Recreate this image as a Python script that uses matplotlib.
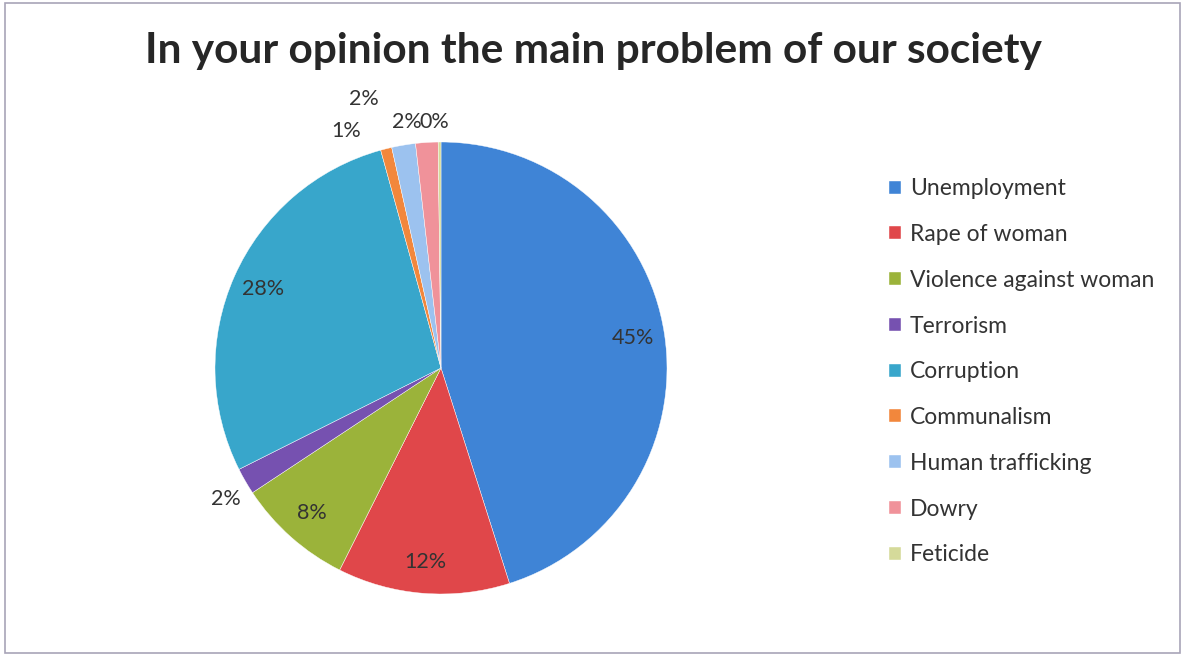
import matplotlib.pyplot as plt
import numpy as np
from matplotlib.patches import Rectangle

categories = ['Unemployment', 'Rape of woman', 'Violence against woman', 'Terrorism',
              'Corruption', 'Communalism', 'Human trafficking', 'Dowry', 'Feticide']
shares = [45.1, 12.3, 8.3, 1.9, 28.1, 0.8, 1.7, 1.6, 0.2]
colors = ['#3f84d6', '#e0474a', '#9bb33a', '#7651b0', '#38a6cb',
          '#f2873c', '#9cc2ef', '#f0929a', '#d5da9a']

# outside labels for the thin slices, offsets in pie radius units
outside = {3: (-0.95, -0.58), 5: (-0.42, 1.05), 6: (-0.34, 1.19),
           7: (-0.15, 1.09), 8: (-0.03, 1.09)}

plt.rcParams['font.family'] = ['Lato', 'DejaVu Sans']

fig = plt.figure(figsize=(11.85, 6.57), dpi=100)
fig.patches.append(Rectangle((0.004, 0.006), 0.992, 0.989, transform=fig.transFigure,
                             fill=False, edgecolor='#a8a4b8', linewidth=1.2))

fig.text(0.501, 0.922, 'In your opinion the main problem of our society',
         ha='center', va='center', fontsize=30.5, fontweight='bold', color='#262626')

ax = fig.add_axes([(441 - 226) / 1185, (289 - 226) / 657, 452 / 1185, 452 / 657])
wedges, _ = ax.pie(shares, colors=colors, startangle=90, counterclock=False,
                   wedgeprops=dict(linewidth=0.3, edgecolor='white'))
ax.set_xlim(-1, 1)
ax.set_ylim(-1, 1)

total = sum(shares)
for i, w in enumerate(wedges):
    label = '%.0f%%' % (shares[i] / total * 100)
    if i in outside:
        x, y = outside[i]
    else:
        mid = np.deg2rad((w.theta1 + w.theta2) / 2)
        x, y = 0.86 * np.cos(mid), 0.86 * np.sin(mid)
    ax.text(x, y, label, ha='center', va='center', fontsize=15.5, color='#333333')

leg = fig.legend(wedges, categories, loc='upper left', bbox_to_anchor=(0.733, 0.76),
                 frameon=False, fontsize=16.5, handlelength=0.5, handleheight=0.5,
                 handletextpad=0.4, labelspacing=1.08, labelcolor='#333333')

fig.savefig('out.png', dpi=100)
